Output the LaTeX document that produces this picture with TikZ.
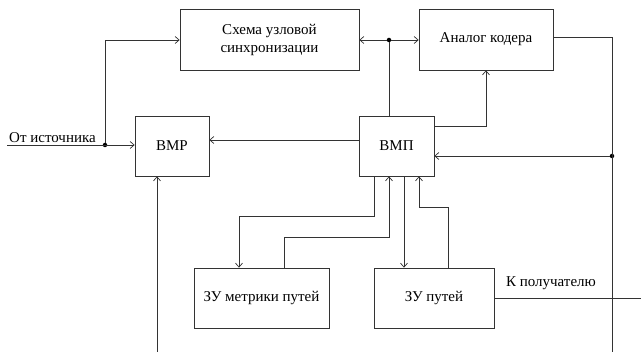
\documentclass[tikz,border=0pt]{standalone}
\usepackage{fontspec}
\setmainfont{Liberation Serif}
\usetikzlibrary{arrows.meta}
\begin{document}
\begin{tikzpicture}[
    x=1pt, y=-1pt, % pixel grid, y downwards
    font=\fontsize{15}{18}\selectfont,
    block/.style = {draw=black!80, line width=0.7pt, align=center, inner sep=0pt},
    line/.style = {-{Straight Barb[length=4pt,width=7pt]}, draw=black!80, line width=0.7pt},
    wire/.style = {draw=black!80, line width=0.7pt}
    ]
    \tikzstyle{junction} = [circle, fill=black, inner sep=0pt, minimum size=4.5pt]
    \useasboundingbox (0,0) rectangle (641,352);

    \node[block, minimum width=179pt, minimum height=61pt] (sync) at (269.5,39.5) {Схема узловой\\синхронизации};
    \node[block, minimum width=134pt, minimum height=61pt] (coder) at (486,39.5) {Аналог кодера};
    \node[block, minimum width=74pt, minimum height=60pt] (vmr) at (172,146) {ВМР};
    \node[block, minimum width=75pt, minimum height=60pt] (vmp) at (396.5,146) {ВМП};
    \node[block, minimum width=135pt, minimum height=60pt] (zum) at (261.5,298) {ЗУ метрики путей};
    \node[block, minimum width=120pt, minimum height=60pt] (zup) at (434,298) {ЗУ путей};

    \coordinate (src) at (7,145);
    \node[junction] (split) at (105,145) {};
    \node[junction] (jt) at (389,40) {};
    \node[junction] (jr) at (612,156) {};
    \coordinate (vmrin) at (157,352);
    \coordinate (fbend) at (612,352);
    \coordinate (dst) at (641,298);

    % input
    \draw[line] (src) -- (src -| vmr.west);
    \node[above right, inner sep=2pt] (srclabel) at (src) {От источника};
    \draw[line] (split) |- (sync.west |- jt);
    \draw[line] (vmrin) -- (vmr.south -| vmrin);
    \draw[line] (vmp.west |- 0,140) -- (vmr.east |- 0,140);

    % sync / coder
    \draw[line] (jt) -- (sync.east |- jt);
    \draw[line] (jt) -- (coder.west |- jt);
    \draw[wire] (vmp.north -| jt) -- (jt);
    \draw[line] (vmp.east |- 0,126) -| (coder.south);
    \draw[wire] (coder.east |- 0,37) -| (fbend);
    \draw[line] (jr) -- (vmp.east |- jr);

    % memories
    \draw[line] (vmp.south -| 374,0) |- (239,216) -- (zum.north -| 239,0);
    \draw[line] (zum.north -| 284,0) |- (389,237) -- (vmp.south -| 389,0);
    \draw[line] (vmp.south -| 404,0) -- (zup.north -| 404,0);
    \draw[line] (zup.north -| 448,0) |- (419,207) -- (vmp.south -| 419,0);

    % output
    \draw[wire] (zup.east) -- (dst);
    \node (dstlabel) at (551,283) {К получателю};
\end{tikzpicture}
\end{document}
